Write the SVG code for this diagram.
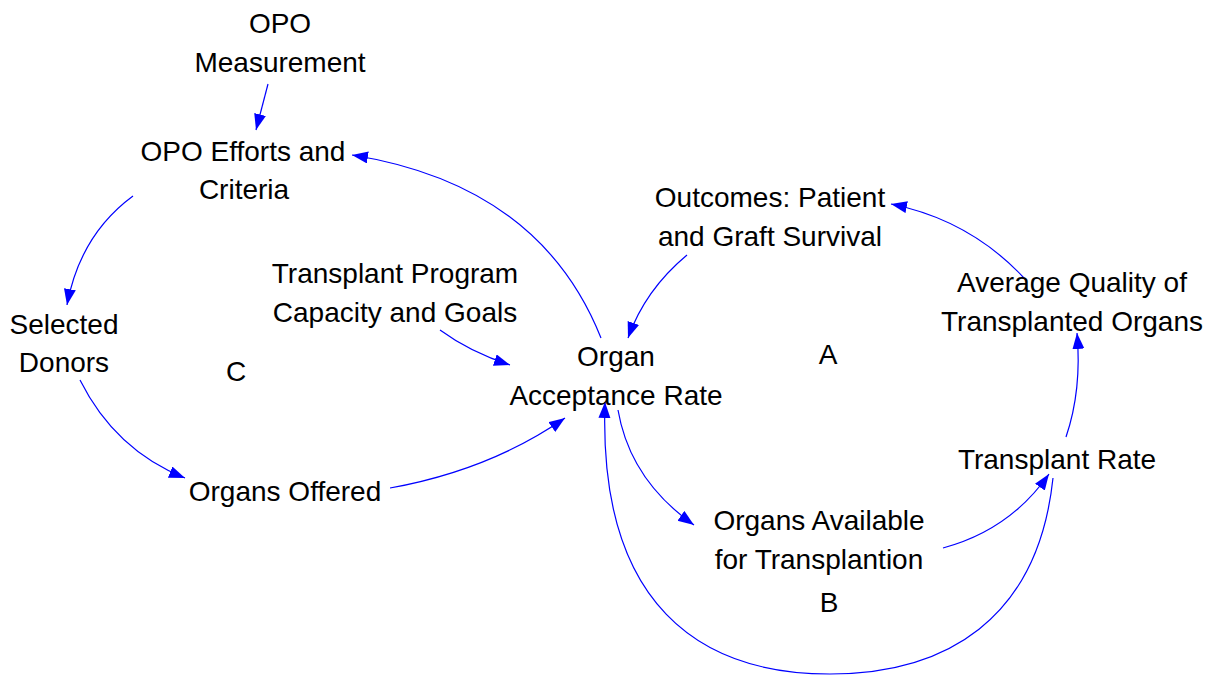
<svg xmlns="http://www.w3.org/2000/svg" width="1205" height="675" viewBox="0 0 1205 675">
<style>
text{font-family:"Liberation Sans",Arial,sans-serif;font-size:28px;fill:#000;text-anchor:middle}
.c{fill:none;stroke:#0000FF;stroke-width:1.2;marker-end:url(#ah)}
</style>
<defs>
<marker id="ah" markerUnits="userSpaceOnUse" markerWidth="18" markerHeight="14" refX="16" refY="6" orient="auto">
<path d="M0,0 L16,6 L0,12 Z" fill="#0000FF"/>
</marker>
</defs>
<rect width="1205" height="675" fill="#fff"/>
<g id="connectors">
<path class="c" d="M268,84 L256,130"/>
<path class="c" d="M601,338 Q540,185 352,155"/>
<path class="c" d="M133,196 Q80,235 67,305"/>
<path class="c" d="M80,380 Q115,450 185,478"/>
<path class="c" d="M390,488 Q490,470 565,418"/>
<path class="c" d="M440,330 Q470,352 510,365"/>
<path class="c" d="M687,255 Q645,290 628,338"/>
<path class="c" d="M1024,278 Q970,220 891,204"/>
<path class="c" d="M1066,437 Q1082,390 1077,333"/>
<path class="c" d="M618,410 Q630,480 694,525"/>
<path class="c" d="M943,548 Q1010,530 1049,474"/>
<path class="c" d="M1053,478 C1038,620 945,674 830,674 C700,674 598,605 605,402"/>
</g>
<g id="opo-measurement"><text x="280" y="33">OPO</text><text x="280" y="72">Measurement</text></g>
<g id="opo-efforts"><text x="243" y="161">OPO Efforts and</text><text x="244" y="199">Criteria</text></g>
<g id="selected-donors"><text x="64" y="334">Selected</text><text x="64" y="372">Donors</text></g>
<g id="loop-c"><text x="236" y="381">C</text></g>
<g id="transplant-program"><text x="395" y="283">Transplant Program</text><text x="395" y="322">Capacity and Goals</text></g>
<g id="organ-acceptance"><text x="616" y="366">Organ</text><text x="616" y="405">Acceptance Rate</text></g>
<g id="organs-offered"><text x="285" y="501">Organs Offered</text></g>
<g id="loop-a"><text x="828" y="364">A</text></g>
<g id="outcomes"><text x="770" y="207">Outcomes: Patient</text><text x="770" y="246">and Graft Survival</text></g>
<g id="average-quality"><text x="1072" y="292">Average Quality of</text><text x="1072" y="331">Transplanted Organs</text></g>
<g id="transplant-rate"><text x="1057" y="469">Transplant Rate</text></g>
<g id="organs-available"><text x="819" y="530">Organs Available</text><text x="819" y="569">for Transplantion</text></g>
<g id="loop-b"><text x="829" y="612">B</text></g>
</svg>
